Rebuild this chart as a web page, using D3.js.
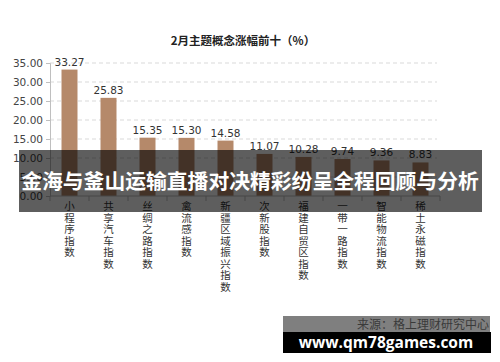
<!DOCTYPE html>
<html>
<head>
<meta charset="utf-8">
<script src="https://cdn.jsdelivr.net/npm/d3@7"></script>
<style>
  body { margin: 0; background: #fff; }
  svg { display: block; font-family: "Noto Sans CJK SC", "Noto Sans", sans-serif; }
</style>
</head>
<body>
<div id="chart"></div>
<script>
var categories = ["小程序指数", "共享汽车指数", "丝绸之路指数", "禽流感指数", "新疆区域振兴指数",
                  "次新股指数", "福建自贸区指数", "一带一路指数", "智能物流指数", "稀土永磁指数"];
var values = [33.27, 25.83, 15.35, 15.30, 14.58, 11.07, 10.28, 9.74, 9.36, 8.83];
var yTicks = [0, 5, 10, 15, 20, 25, 30, 35];

var width = 500, height = 362;

var svg = d3.select("#chart")
  .append("svg")
  .attr("width", width)
  .attr("height", height);

var x = d3.scaleBand()
  .domain(categories)
  .range([50, 440])
  .paddingInner(0.59)
  .paddingOuter(0.295);

var y = d3.scaleLinear()
  .domain([0, 35])
  .range([196, 63]);

// title
svg.append("text")
  .attr("x", 243)
  .attr("y", 45)
  .attr("text-anchor", "middle")
  .attr("font-size", "11.5px")
  .attr("font-weight", "bold")
  .attr("fill", "#222")
  .text("2月主题概念涨幅前十（%）");

// dashed grid
svg.append("g")
  .selectAll("line")
  .data(yTicks.slice(1))
  .enter()
  .append("line")
  .attr("x1", 50)
  .attr("x2", 437)
  .attr("y1", function(d) { return y(d); })
  .attr("y2", function(d) { return y(d); })
  .style("stroke", "#d9d9d9")
  .style("stroke-dasharray", "4,3")
  .style("stroke-width", 1);

// y axis
var yAxis = svg.append("g")
  .attr("transform", "translate(50,0)")
  .call(d3.axisLeft(y).tickValues(yTicks).tickSize(4).tickFormat(d3.format(".2f")));
yAxis.select(".domain").attr("stroke", "#bfbfbf");
yAxis.selectAll(".tick line").attr("stroke", "#bfbfbf");
yAxis.selectAll("text")
  .attr("fill", "#444")
  .attr("x", -7)
  .style("font-family", "'DejaVu Sans', sans-serif")
  .style("font-size", "10.5px");

// bars
svg.append("g")
  .selectAll("rect")
  .data(values)
  .enter()
  .append("rect")
  .attr("x", function(d, i) { return x(categories[i]); })
  .attr("y", function(d) { return y(d); })
  .attr("width", x.bandwidth())
  .attr("height", function(d) { return y(0) - y(d); })
  .attr("fill", "#b5896a");

// value labels
svg.append("g")
  .selectAll("text")
  .data(values)
  .enter()
  .append("text")
  .attr("x", function(d, i) { return x(categories[i]) + x.bandwidth() / 2; })
  .attr("y", function(d) { return y(d) - 4; })
  .attr("text-anchor", "middle")
  .style("font-family", "'DejaVu Sans', sans-serif")
  .style("font-size", "10.5px")
  .attr("fill", "#333")
  .text(function(d) { return d.toFixed(2); });

// x axis line and ticks between categories
svg.append("line")
  .attr("x1", 50).attr("x2", 440)
  .attr("y1", y(0)).attr("y2", y(0))
  .style("stroke", "#bfbfbf");
var step = x.step();
svg.append("g")
  .selectAll("line")
  .data(d3.range(categories.length + 1))
  .enter()
  .append("line")
  .attr("x1", function(d) { return 50 + d * step; })
  .attr("x2", function(d) { return 50 + d * step; })
  .attr("y1", y(0))
  .attr("y2", y(0) + 5)
  .style("stroke", "#bfbfbf");

// vertical category labels, one char per line
var catLabels = svg.append("g")
  .selectAll("text")
  .data(categories)
  .enter()
  .append("text")
  .attr("x", function(d) { return x(d) + x.bandwidth() / 2; })
  .attr("y", 210)
  .attr("text-anchor", "middle")
  .attr("font-size", "10.5px")
  .attr("fill", "#333");
catLabels.each(function(d) {
  var t = d3.select(this);
  d.split("").forEach(function(ch, k) {
    t.append("tspan")
      .attr("x", x(d) + x.bandwidth() / 2)
      .attr("y", 210 + k * 11.5)
      .text(ch);
  });
});

// overlay banner
svg.append("rect")
  .attr("x", 19).attr("y", 150)
  .attr("width", 463).attr("height", 62)
  .attr("fill", "rgba(0,0,0,0.63)");
svg.append("text")
  .attr("x", 250)
  .attr("y", 189)
  .attr("text-anchor", "middle")
  .attr("font-size", "20.8px")
  .attr("font-weight", "bold")
  .attr("fill", "#fff")
  .text("金海与釜山运输直播对决精彩纷呈全程回顾与分析");

// source strip
svg.append("rect")
  .attr("x", 283).attr("y", 316)
  .attr("width", 207).attr("height", 16)
  .attr("fill", "rgba(0,0,0,0.5)");
svg.append("text")
  .attr("x", 489)
  .attr("y", 329)
  .attr("text-anchor", "end")
  .attr("font-size", "12px")
  .attr("fill", "#3a3a3a")
  .text("来源：格上理财研究中心");

svg.append("rect")
  .attr("x", 283).attr("y", 332)
  .attr("width", 208).attr("height", 21)
  .attr("fill", "#000");
svg.append("text")
  .attr("x", 386)
  .attr("y", 348)
  .attr("text-anchor", "middle")
  .attr("font-size", "15.5px")
  .attr("font-weight", "bold")
  .attr("fill", "#fff")
  .style("font-family", "'Open Sans', 'DejaVu Sans', sans-serif")
  .text("www.qm78games.com");
</script>
</body>
</html>
